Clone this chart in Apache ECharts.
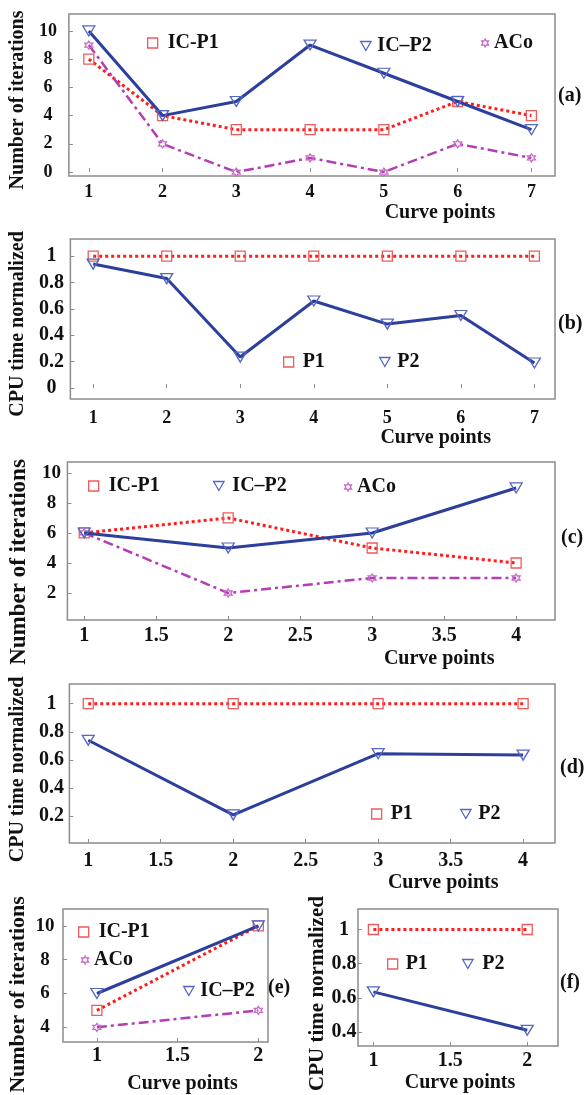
<!DOCTYPE html>
<html>
<head>
<meta charset="utf-8">
<script src="https://cdn.jsdelivr.net/npm/echarts@6/dist/echarts.min.js"></script>
<style>
  html, body { margin: 0; padding: 0; background: #fff; }
  #chart { width: 585px; height: 1095px; }
</style>
</head>
<body>
<div id="chart"></div>
<script>
// Curve points (x values) per panel
const ptsA = [1, 2, 3, 4, 5, 6, 7];
const ptsB = [1, 2, 3, 4, 5, 6, 7];
const ptsC = [1, 2, 3, 4];
const ptsD = [1, 2, 3, 4];
const ptsE = [1, 2];
const ptsF = [1, 2];

// (a) number of iterations
const iterA_P1 = [8, 4, 3, 3, 3, 5, 4];
const iterA_P2 = [10, 4, 5, 9, 7, 5, 3];
const iterA_ACo = [9, 2, 0, 1, 0, 2, 1];
// (b) normalized CPU time
const cpuB_P1 = [1, 1, 1, 1, 1, 1, 1];
const cpuB_P2 = [0.94, 0.83, 0.235, 0.66, 0.485, 0.55, 0.19];
// (c) number of iterations
const iterC_P1 = [6, 7, 5, 4];
const iterC_P2 = [6, 5, 6, 9];
const iterC_ACo = [6, 2, 3, 3];
// (d) normalized CPU time
const cpuD_P1 = [1, 1, 1, 1];
const cpuD_P2 = [0.74, 0.21, 0.645, 0.635];
// (e) number of iterations
const iterE_P1 = [5, 10];
const iterE_P2 = [6, 10];
const iterE_ACo = [4, 5];
// (f) normalized CPU time
const cpuF_P1 = [1, 1];
const cpuF_P2 = [0.635, 0.41];

const SERIF = '"Liberation Serif", "Times New Roman", serif';
const RED = '#ff1c1c', RED_M = '#f05a5a';
const BLUE = '#2d3f9c', BLUE_M = '#5566c4';
const MAG = '#b43cb4', MAG_M = '#c86ac8';
const BOX = '#8c8c8c';

const TRI_DOWN = 'path://M0,0 L10,0 L5,8.66 Z';
const STAR6 = 'path://M0,-10 L2.9,-5 L8.66,-5 L5.8,0 L8.66,5 L2.9,5 L0,10 L-2.9,5 L-8.66,5 L-5.8,0 L-8.66,-5 L-2.9,-5 Z';

const STYLE = {
  P1: { symbol: 'rect', size: 10, line: { color: RED, width: 3, type: [3, 3] }, mark: RED_M },
  P2: { symbol: TRI_DOWN, size: [12, 10], line: { color: BLUE, width: 3, type: 'solid' }, mark: BLUE_M },
  ACo: { symbol: STAR6, size: 8, line: { color: MAG, width: 2.5, type: [10, 4, 3, 4] }, mark: MAG_M }
};

const pair = (xs, ys) => xs.map((x, i) => [x, ys[i]]);

function line(name, kind, gi, xs, ys) {
  const s = STYLE[kind];
  return {
    type: 'line', name: name, xAxisIndex: gi, yAxisIndex: gi,
    data: pair(xs, ys),
    symbol: s.symbol, symbolSize: s.size,
    lineStyle: s.line,
    itemStyle: { color: 'rgba(255,255,255,0)', borderColor: s.mark, borderWidth: 1.3 },
    z: kind === 'P2' ? 3 : 2,
    animation: false
  };
}

// grid boxes (px)
const boxes = [
  { left: 65, top: 14, width: 490, height: 162 },
  { left: 65, top: 239, width: 490, height: 160 },
  { left: 63, top: 462, width: 492, height: 158 },
  { left: 63, top: 684, width: 492, height: 159 },
  { left: 63, top: 909, width: 205, height: 135 },
  { left: 358, top: 909, width: 200, height: 137 }
];

const grids = boxes.map(b => Object.assign({
  show: true, borderColor: BOX, borderWidth: 1.5, backgroundColor: 'transparent'
}, b));

function xAxis(gi, min, max, step, fs, margin, gap, shift) {
  return {
    type: 'value', gridIndex: gi, min: min, max: max,
    minInterval: step, maxInterval: step,
    axisLine: { show: false },
    axisTick: { show: true, inside: true, length: 4, lineStyle: { color: BOX, width: 1 } },
    splitLine: { show: false },
    axisLabel: { showMinLabel: false, showMaxLabel: false, margin: margin,
      fontFamily: SERIF, fontWeight: 'bold', fontSize: fs, color: '#111' },
    name: 'Curve points', nameLocation: 'middle', nameGap: gap,
    nameTextStyle: { fontFamily: SERIF, fontWeight: 'bold', fontSize: 20, color: '#111',
      padding: [0, 0, 0, 2 * shift] }
  };
}

function yAxis(gi, name, min, max, step, fs, margin, nfs, gap, shift) {
  return {
    type: 'value', gridIndex: gi, min: min, max: max,
    minInterval: step, maxInterval: step,
    axisLine: { show: false },
    axisTick: { show: true, inside: true, length: 4, lineStyle: { color: BOX, width: 1 } },
    splitLine: { show: false },
    axisLabel: { showMinLabel: false, showMaxLabel: false, margin: margin, align: 'center',
      fontFamily: SERIF, fontWeight: 'bold', fontSize: fs, color: '#111' },
    name: name, nameLocation: 'middle', nameGap: gap,
    nameTextStyle: { fontFamily: SERIF, fontWeight: 'bold', fontSize: nfs, color: '#111',
      padding: [0, 2 * shift, 0, 0] }
  };
}

function legend(name, kind, left, cy, pad) {
  const s = STYLE[kind];
  const w = Array.isArray(s.size) ? s.size[0] - 1 : s.size;
  const h = Array.isArray(s.size) ? s.size[1] - 1 : s.size;
  return {
    left: left, top: cy - 11, padding: 0, orient: 'horizontal',
    itemWidth: w, itemHeight: h,
    data: [{ name: name, icon: s.symbol,
      itemStyle: { color: 'rgba(255,255,255,0)', borderColor: s.mark, borderWidth: 1.3 } }],
    textStyle: { fontFamily: SERIF, fontWeight: 'bold', fontSize: 20, color: '#111',
      lineHeight: 22, padding: [0, 0, 0, pad] },
    selectedMode: false
  };
}

function panelLabel(text, left, cy) {
  return { text: text, left: left, top: cy - 11, padding: 0,
    textStyle: { fontFamily: SERIF, fontWeight: 'bold', fontSize: 20, color: '#111' } };
}

const option = {
  backgroundColor: '#fff',
  animation: false,
  grid: grids,
  title: [
    panelLabel('(a)', 558, 97),
    panelLabel('(b)', 558, 325),
    panelLabel('(c)', 561, 539),
    panelLabel('(d)', 560, 769),
    panelLabel('(e)', 268, 989),
    panelLabel('(f)', 560, 984)
  ],
  legend: [
    legend('IC-P1', 'P1', 147, 43, 5),
    legend('IC–P2', 'P2', 360, 46, 1),
    legend('ACo', 'ACo', 481, 43, 0),
    legend('P1', 'P1', 283, 362, 4),
    legend('P2', 'P2', 379, 362, 2),
    legend('IC-P1', 'P1', 88, 486, 5),
    legend('IC–P2', 'P2', 213, 486, 3),
    legend('ACo', 'ACo', 344, 487, 0),
    legend('P1', 'P1', 371, 814, 4),
    legend('P2', 'P2', 460, 814, 2),
    legend('IC-P1', 'P1', 78, 932, 5),
    legend('ACo', 'ACo', 81, 960, 0),
    legend('IC–P2', 'P2', 183, 991, 1),
    legend('P1', 'P1', 387, 964, 3),
    legend('P2', 'P2', 462, 964, 4)
  ],
  xAxis: [
    xAxis(0, 0.73, 7.32, 1, 18, 7, 27, 128),
    xAxis(1, 0.69, 7.28, 1, 18, 10, 29, 123),
    xAxis(2, 0.883, 4.27, 0.5, 20, 6, 29, 128),
    xAxis(3, 0.87, 4.22, 0.5, 20, 8, 30, 131),
    xAxis(4, 0.79, 2.06, 0.5, 20, 4, 32, 17),
    xAxis(5, 0.90, 2.2, 0.5, 20, 5, 27, 2)
  ],
  yAxis: [
    yAxis(0, 'Number of iterations', -0.28, 11.2, 2, 18, 21, 20, 33, 5),
    yAxis(1, 'CPU time normalized', -0.083, 1.13, 0.2, 20, 19, 20, 34, 5),
    yAxis(2, 'Number of iterations', 0.2, 10.73, 2, 19, 16, 23, 34, 21),
    yAxis(3, 'CPU time normalized', 0.01, 1.14, 0.2, 20, 18, 20, 32, 6),
    yAxis(4, 'Number of iterations', 3.13, 11.0, 2, 19, 18, 22, 34, 19),
    yAxis(5, 'CPU time normalized', 0.318, 1.12, 0.2, 20, 14, 21, 27, 16)
  ],
  series: [
    line('IC-P1', 'P1', 0, ptsA, iterA_P1),
    line('ACo', 'ACo', 0, ptsA, iterA_ACo),
    line('IC–P2', 'P2', 0, ptsA, iterA_P2),
    line('P1', 'P1', 1, ptsB, cpuB_P1),
    line('P2', 'P2', 1, ptsB, cpuB_P2),
    line('IC-P1', 'P1', 2, ptsC, iterC_P1),
    line('ACo', 'ACo', 2, ptsC, iterC_ACo),
    line('IC–P2', 'P2', 2, ptsC, iterC_P2),
    line('P1', 'P1', 3, ptsD, cpuD_P1),
    line('P2', 'P2', 3, ptsD, cpuD_P2),
    line('IC-P1', 'P1', 4, ptsE, iterE_P1),
    line('ACo', 'ACo', 4, ptsE, iterE_ACo),
    line('IC–P2', 'P2', 4, ptsE, iterE_P2),
    line('P1', 'P1', 5, ptsF, cpuF_P1),
    line('P2', 'P2', 5, ptsF, cpuF_P2)
  ]
};

const chart = echarts.init(document.getElementById('chart'), null, { renderer: 'canvas' });
chart.setOption(option);
</script>
</body>
</html>
